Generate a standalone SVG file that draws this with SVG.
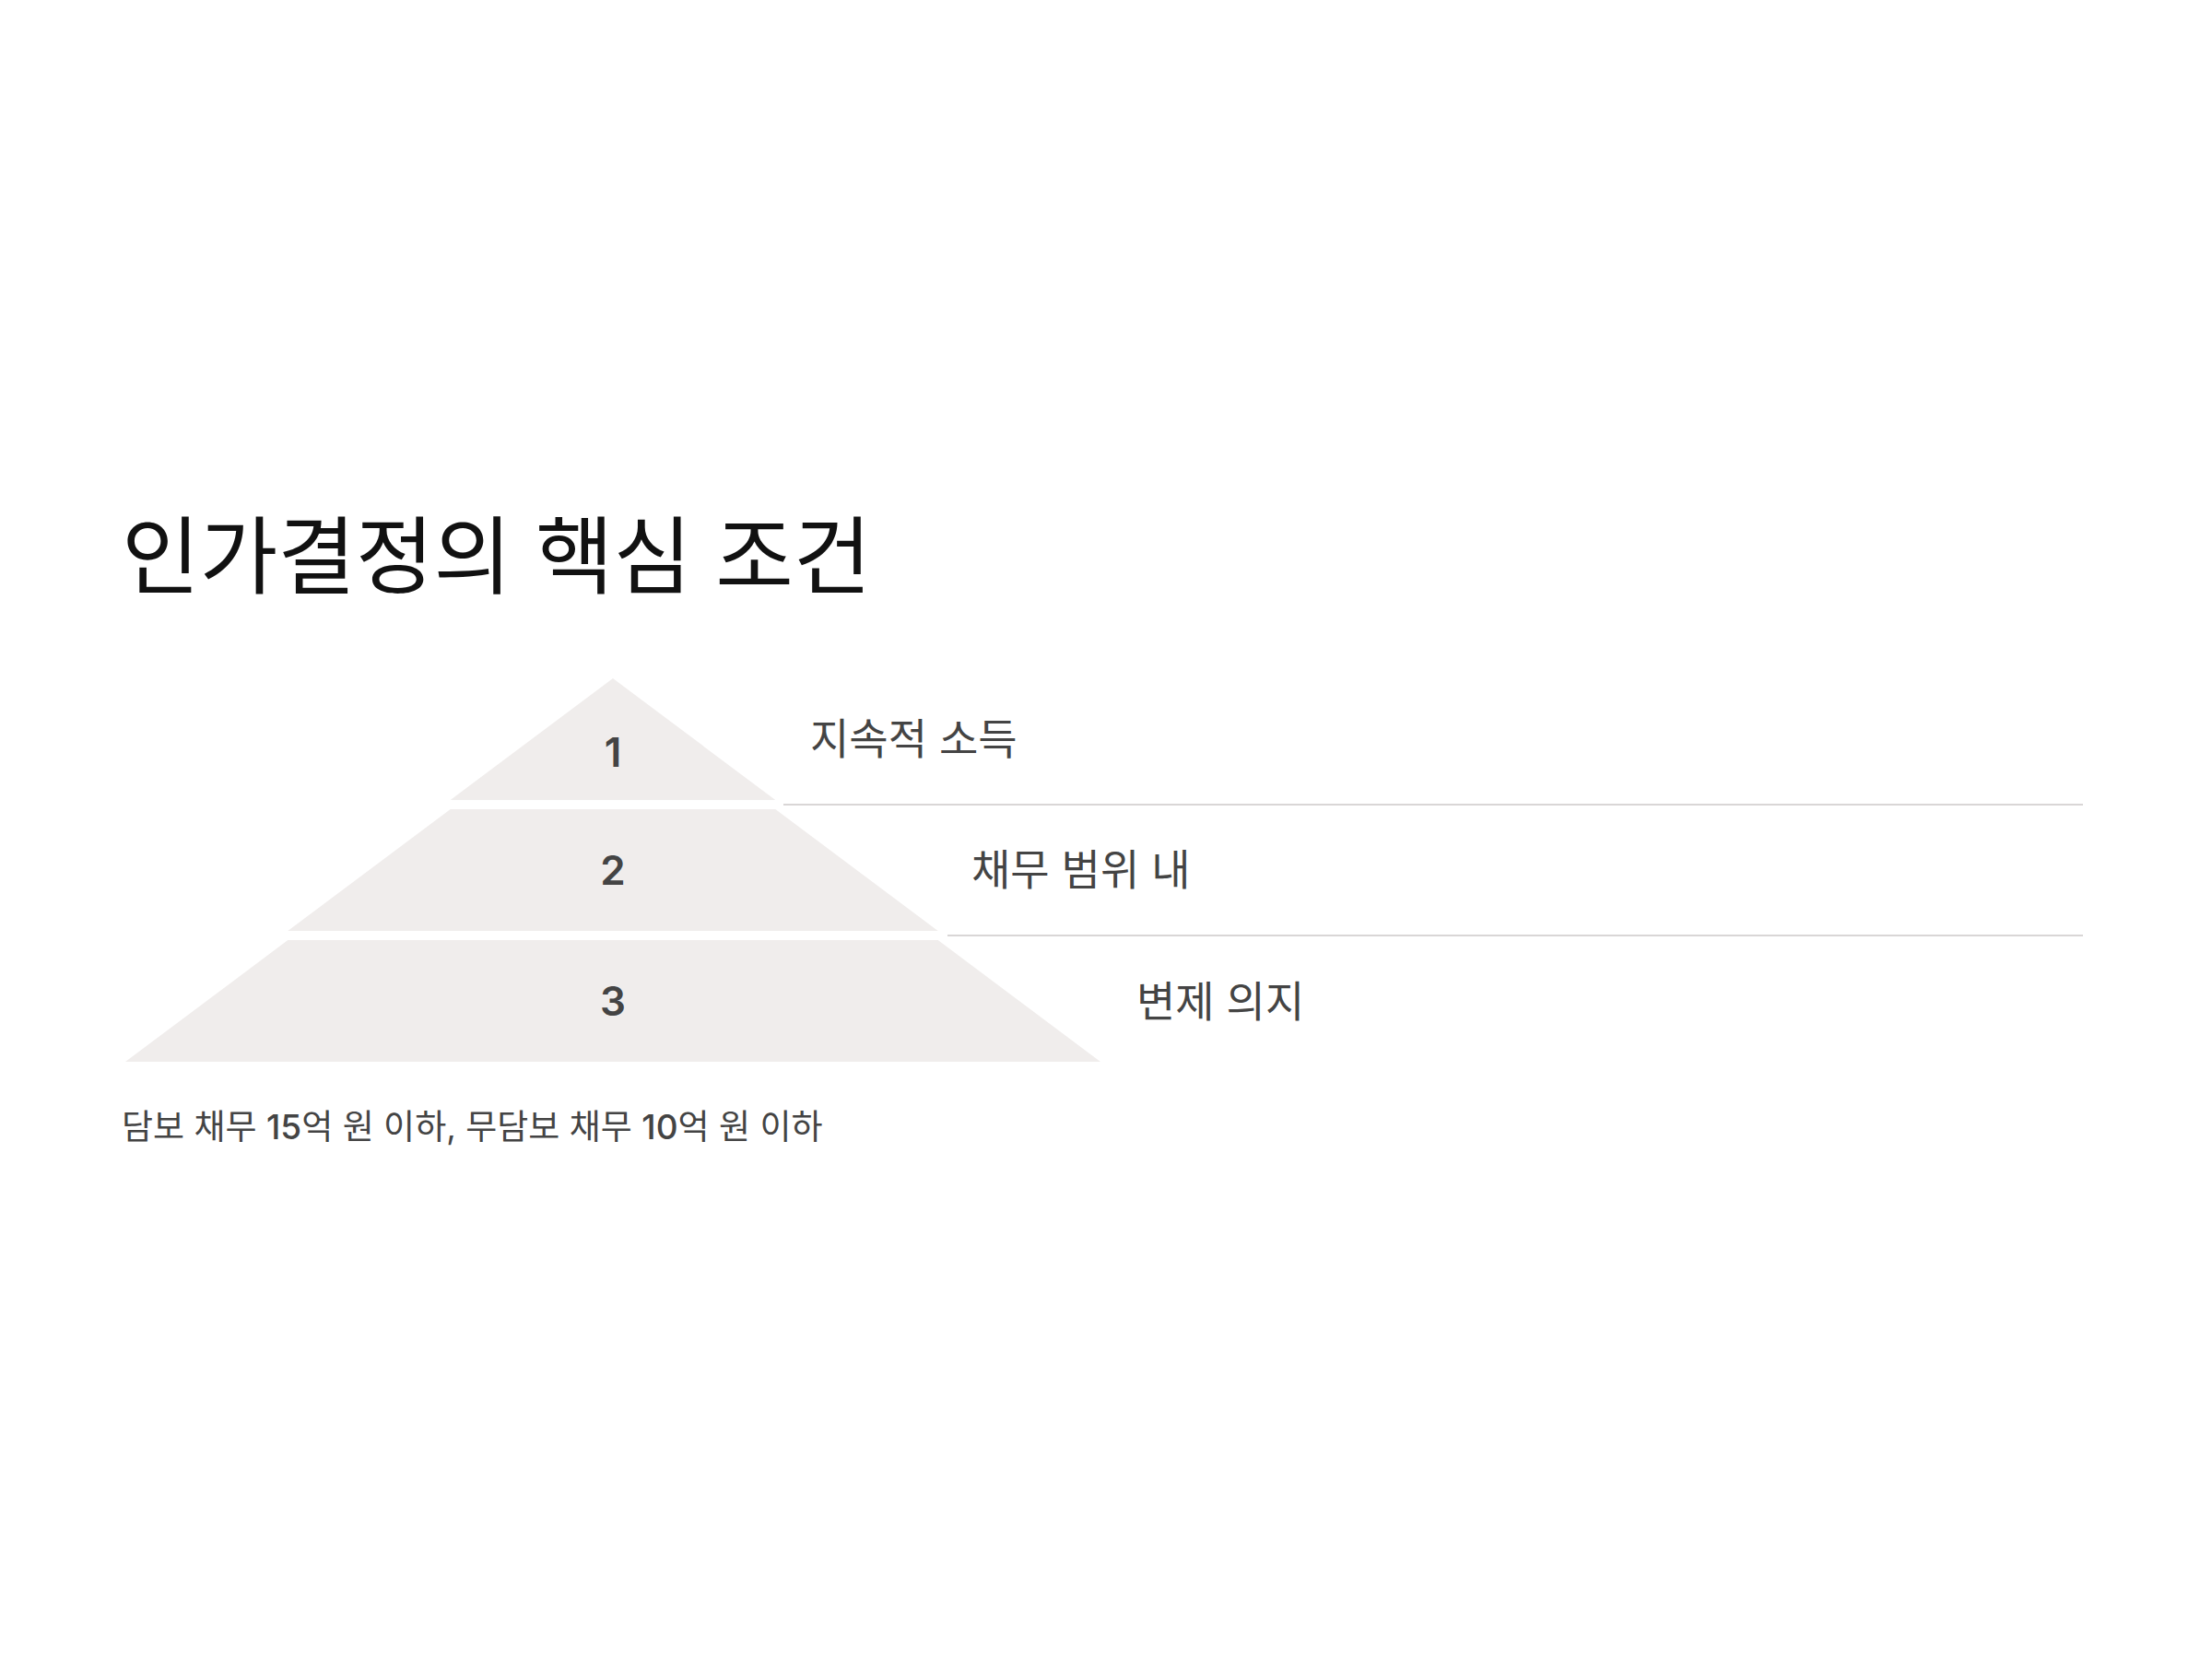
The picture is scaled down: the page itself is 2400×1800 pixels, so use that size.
<svg xmlns="http://www.w3.org/2000/svg" width="2400" height="1800" viewBox="0 0 2400 1800">
  <style>
    .t { font-family: Inter, "Noto Sans CJK KR", sans-serif; }
    .title { font-size: 92px; fill: #111111; }
    .label { font-size: 46px; fill: #444444; }
    .num { font-size: 44px; font-weight: 600; fill: #444444; text-anchor: middle; }
    .note { font-size: 37px; fill: #444444; }
    .note tspan.d { font-weight: 500; }
    .tier { fill: #f0edec; }
    .sep { stroke: #d9d6d6; stroke-width: 2; fill: none; }
  </style>
  <rect x="0" y="0" width="2400" height="1800" fill="#ffffff"/>
  <g id="title">
    <text class="t title" x="132" y="637">인가결정의 핵심 조건</text>
  </g>
  <g id="connectors">
    <line class="sep" x1="850" y1="873" x2="2260" y2="873"/>
    <line class="sep" x1="1028" y1="1015" x2="2260" y2="1015"/>
  </g>
  <g id="tier1">
    <polygon class="tier" points="665,736 841.3,868 488.7,868"/>
    <text class="t num" x="665" y="832">1</text>
    <text class="t label" x="879" y="818">지속적 소득</text>
  </g>
  <g id="tier2">
    <polygon class="tier" points="488.7,878 841.3,878 1017.7,1010 312.3,1010"/>
    <text class="t num" x="665" y="960">2</text>
    <text class="t label" x="1054" y="960">채무 범위 내</text>
  </g>
  <g id="tier3">
    <polygon class="tier" points="312.3,1020 1017.7,1020 1194,1152 136,1152"/>
    <text class="t num" x="665" y="1102">3</text>
    <text class="t label" x="1233" y="1103">변제 의지</text>
  </g>
  <g id="note">
    <text class="t note" x="132" y="1236">담보 채무 <tspan class="d">15</tspan>억 원 이하, 무담보 채무 <tspan class="d">10</tspan>억 원 이하</text>
  </g>
</svg>
